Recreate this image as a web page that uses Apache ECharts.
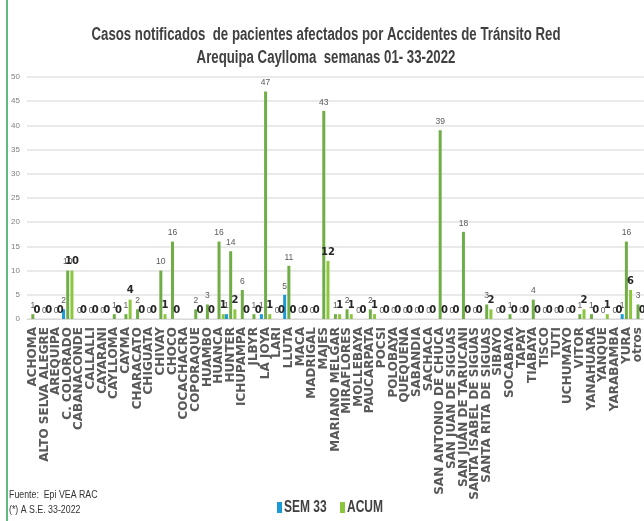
<!DOCTYPE html>
<html>
<head>
<meta charset="utf-8">
<script src="https://cdn.jsdelivr.net/npm/echarts@6/dist/echarts.min.js"></script>
<style>
html,body{margin:0;padding:0;background:#fff;}
#chart{width:644px;height:521px;}
</style>
</head>
<body>
<div id="chart"></div>
<script>
const categories = ['ACHOMA','ALTO SELVA ALEGRE','AREQUIPA','C. COLORADO','CABANACONDE','CALLALLI','CAYARANI','CAYLLOMA','CAYMA','CHARACATO','CHIGUATA','CHIVAY','CHOCO','COCACHACRA','COPORAQUE','HUAMBO','HUANCA','HUNTER','ICHUPAMPA','JLBYR','LA JOYA','LARI','LLUTA','MACA','MADRIGAL','MAJES','MARIANO MELGAR','MIRAFLORES','MOLLEBAYA','PAUCARPATA','POCSI','POLOBAYA','QUEQUEÑA','SABANDIA','SACHACA','SAN ANTONIO DE CHUCA','SAN JUAN DE SIGUAS','SAN JUAN DE TARUCANI','SANTA ISABEL DE SIGUAS','SANTA RITA DE SIGUAS','SIBAYO','SOCABAYA','TAPAY','TIABAYA','TISCO','TUTI','UCHUMAYO','VITOR','YANAHUARA','YANQUE','YARABAMBA','YURA','otros'];
const sem33 = [0,0,0,2,0,0,0,0,0,0,0,0,0,null,0,0,0,1,0,0,1,0,5,0,0,0,0,0,0,0,0,0,0,0,0,0,0,0,0,0,0,0,0,0,0,0,0,0,0,0,0,1,0];
const acumPrev = [1,0,0,10,0,0,0,1,1,2,0,10,16,null,2,3,16,14,6,1,47,0,11,0,0,43,1,2,0,2,0,0,0,0,0,39,0,18,0,3,0,1,0,4,0,0,0,1,1,0,0,16,3];
const acum = [0,0,0,10,0,0,0,0,4,0,0,1,0,null,0,0,1,2,0,0,1,0,0,0,0,12,1,1,0,1,0,0,0,0,0,0,0,0,0,2,0,0,0,0,0,0,0,2,0,1,0,6,0];
const yTicks = {min:0, max:50, interval:5};
const titleLines = ['Casos notificados  de pacientes afectados por Accidentes de Tránsito Red', 'Arequipa Caylloma  semanas 01- 33-2022'];
const legendNames = ['SEM 33', 'ACUM'];
const footLines = ['Fuente:  Epi VEA RAC', '(*) A S.E. 33-2022'];

const SANS = "'Liberation Sans',Arial,sans-serif";
const colors = {sem:'#1B9AD6', prev:'#70AD47', acum:'#8CC63F'};
const chart = echarts.init(document.getElementById('chart'), null, {renderer:'canvas'});
chart.setOption({
  animation:false,
  backgroundColor:'#fff',
  grid:{left:27, top:77, width:618.5, height:242},
  xAxis:{
    type:'category', data:categories,
    axisLine:{show:true, lineStyle:{color:'#d9d9d9', width:1}},
    axisTick:{show:false},
    axisLabel:{interval:0, rotate:90, margin:8, fontFamily:"'DejaVu Sans',sans-serif", fontWeight:'bold', fontSize:12, color:'#595959'}
  },
  yAxis:{
    type:'value', min:yTicks.min, max:yTicks.max, interval:yTicks.interval,
    axisLine:{show:false}, axisTick:{show:false},
    splitLine:{lineStyle:{color:'#e3e3e3', width:1.5}},
    axisLabel:{fontFamily:SANS, fontSize:8, color:'#7f7f7f', margin:7}
  },
  series:[
    {name:legendNames[0], type:'bar', data:sem33, barWidth:3, barGap:'40%', itemStyle:{color:colors.sem},
     label:{show:true, position:'top', distance:4, fontFamily:SANS, fontSize:8.5, color:'#595959',
       formatter:p=> (p.value ? String(p.value) : '')}},
    {name:'ACUM ANT', type:'bar', data:acumPrev, barWidth:3, barGap:'40%', itemStyle:{color:colors.prev},
     label:{show:true, position:'top', distance:4, fontFamily:SANS, fontSize:8.5, color:'#595959'}},
    {name:legendNames[1], type:'bar', data:acum, barWidth:3, barGap:'40%', itemStyle:{color:colors.acum},
     label:{show:true, position:'top', distance:4, fontFamily:"'DejaVu Sans',sans-serif", fontSize:10, fontWeight:'bold', color:'#262626'}}
  ],
  graphic:[
    {type:'line', shape:{x1:7, y1:0, x2:7, y2:521}, style:{stroke:'#2EA35A', lineWidth:1.5}},
    {type:'text', x:326, y:35, scaleX:0.735, style:{text:titleLines[0], x:0, y:0, textAlign:'center', textVerticalAlign:'middle', font:"bold 18px "+SANS, fill:'#404040'}},
    {type:'text', x:326, y:58, scaleX:0.735, style:{text:titleLines[1], x:0, y:0, textAlign:'center', textVerticalAlign:'middle', font:"bold 18px "+SANS, fill:'#404040'}},
    {type:'rect', shape:{x:277, y:502, width:5, height:11}, style:{fill:colors.sem}},
    {type:'text', x:284, y:508, scaleX:0.75, style:{text:legendNames[0], x:0, y:0, textAlign:'left', textVerticalAlign:'middle', font:"bold 16px "+SANS, fill:'#404040'}},
    {type:'rect', shape:{x:340, y:502, width:5, height:11}, style:{fill:colors.acum}},
    {type:'text', x:347, y:508, scaleX:0.75, style:{text:legendNames[1], x:0, y:0, textAlign:'left', textVerticalAlign:'middle', font:"bold 16px "+SANS, fill:'#404040'}},
    {type:'text', x:9, y:495, scaleX:0.88, style:{text:footLines[0], x:0, y:0, textVerticalAlign:'middle', font:"10px "+SANS, fill:'#333'}},
    {type:'text', x:9, y:510, scaleX:0.88, style:{text:footLines[1], x:0, y:0, textVerticalAlign:'middle', font:"10px "+SANS, fill:'#333'}}
  ]
});
</script>
</body>
</html>
